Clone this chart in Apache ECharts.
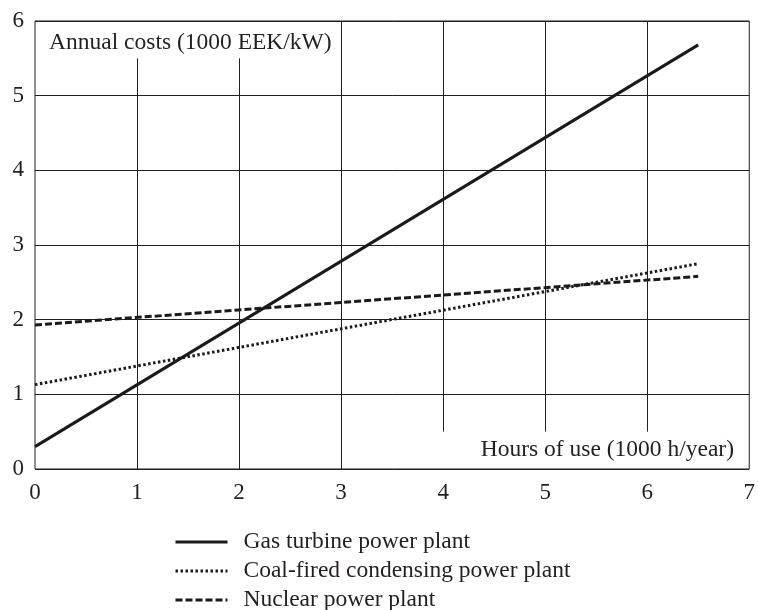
<!DOCTYPE html>
<html>
<head>
<meta charset="utf-8">
<script src="https://cdn.jsdelivr.net/npm/echarts@6/dist/echarts.min.js"></script>
<style>html,body{margin:0;padding:0;background:#fff}#c{width:758px;height:610px}</style>
</head>
<body>
<div id="c"></div>
<script>
// ---- data ----
var seriesNames = ['Gas turbine power plant', 'Coal-fired condensing power plant', 'Nuclear power plant'];
var hours = [0, 6.5];
var gasCosts = [0.30, 5.68];
var coalCosts = [1.13, 2.75];
var nuclearCosts = [1.93, 2.58];
var xTicks = [0, 1, 2, 3, 4, 5, 6, 7];
var yTicks = [0, 1, 2, 3, 4, 5, 6];
var vGridX = [1, 2, 3, 4, 5, 6];
var vGridFrom = [0, 0, 0, 0.5, 0.5, 0.5];
var vGridTo = [5.5, 5.5, 6, 6, 6, 6];
var yAxisTitle = 'Annual costs (1000 EEK/kW)';
var xAxisTitle = 'Hours of use (1000 h/year)';

var FONT = '"Liberation Serif", "DejaVu Serif", serif';
var INK = '#231f20';

function pairs(xs, ys) { return xs.map(function (x, i) { return [x, ys[i]]; }); }

var gridSegs = vGridX.map(function (x, i) {
  return [{ coord: [x, vGridFrom[i]] }, { coord: [x, vGridTo[i]] }];
});

var chart = echarts.init(document.getElementById('c'), null, { renderer: 'canvas' });
chart.setOption({
  animation: false,
  backgroundColor: '#fff',
  grid: { left: 35, top: 21, right: 6, bottom: 141, show: true, borderColor: INK, borderWidth: 1, backgroundColor: 'transparent' },
  xAxis: {
    type: 'value', min: xTicks[0], max: xTicks[xTicks.length - 1], interval: 1,
    axisLine: { show: false }, axisTick: { show: false },
    splitLine: { show: false },
    axisLabel: { fontFamily: FONT, fontSize: 23, color: INK, margin: 12 }
  },
  yAxis: {
    type: 'value', min: yTicks[0], max: yTicks[yTicks.length - 1], interval: 1,
    axisLine: { show: false }, axisTick: { show: false },
    splitLine: { show: true, lineStyle: { color: INK, width: 1 } },
    axisLabel: { fontFamily: FONT, fontSize: 23, color: INK, margin: 11 }
  },
  legend: {
    orient: 'vertical', left: 174, top: 530, width: 500, height: 120, padding: 0,
    itemWidth: 52, itemHeight: 14, itemGap: 5,
    data: seriesNames,
    itemStyle: { opacity: 0 },
    lineStyle: { width: 3 },
    textStyle: { fontFamily: FONT, fontSize: 23.5, lineHeight: 22, color: INK, padding: [0, 0, 0, 11] }
  },
  graphic: [
    { type: 'text', left: 49, top: 31, style: { text: yAxisTitle, font: '23.5px ' + FONT, fill: INK } },
    { type: 'text', right: 24, top: 438, style: { text: xAxisTitle, font: '23.5px ' + FONT, fill: INK } }
  ],
  series: [
    {
      name: 'grid', type: 'line', data: [], silent: true,
      markLine: { silent: true, symbol: 'none', label: { show: false },
        lineStyle: { color: INK, width: 1, type: 'solid' }, data: gridSegs }
    },
    { name: seriesNames[0], type: 'line', data: pairs(hours, gasCosts), symbol: 'none',
      lineStyle: { color: '#1a1a1a', width: 3, type: 'solid' }, itemStyle: { color: '#1a1a1a' } },
    { name: seriesNames[1], type: 'line', data: pairs(hours, coalCosts), symbol: 'none',
      lineStyle: { color: '#1a1a1a', width: 3, type: [2.5, 2.5] }, itemStyle: { color: '#1a1a1a' } },
    { name: seriesNames[2], type: 'line', data: pairs(hours, nuclearCosts), symbol: 'none',
      lineStyle: { color: '#1a1a1a', width: 3, type: [7, 3] }, itemStyle: { color: '#1a1a1a' } }
  ]
});
</script>
</body>
</html>
